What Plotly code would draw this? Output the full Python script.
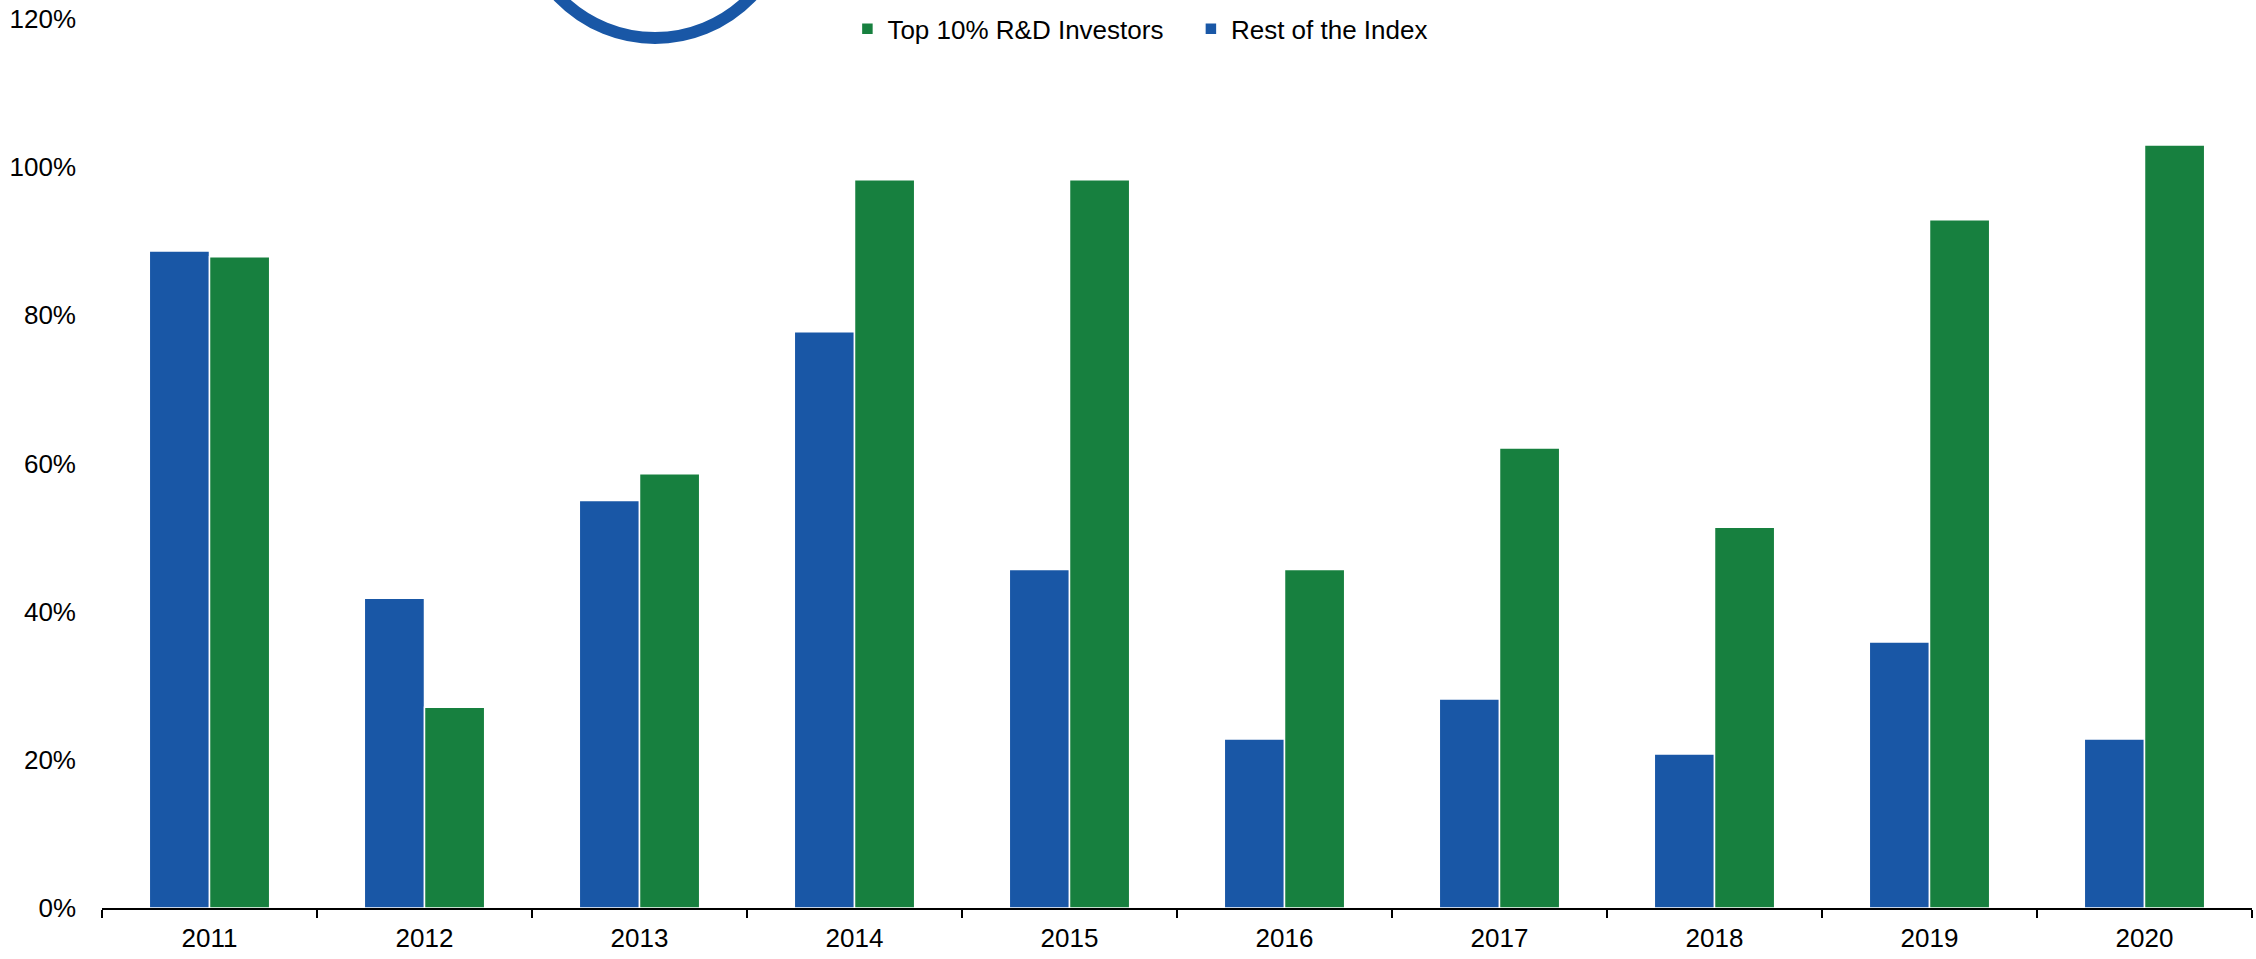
import plotly.graph_objects as go

years = ["2011", "2012", "2013", "2014", "2015", "2016", "2017", "2018", "2019", "2020"]
rest_of_index = [0.887, 0.418, 0.550, 0.778, 0.457, 0.228, 0.282, 0.208, 0.359, 0.228]
top_10_rd = [0.879, 0.271, 0.586, 0.983, 0.983, 0.457, 0.621, 0.514, 0.929, 1.030]

blue = "#1957A6"
green = "#17803F"
font_family = "Arial, Liberation Sans, sans-serif"

fig = go.Figure()

fig.add_trace(go.Bar(
    x=years,
    y=rest_of_index,
    name="Rest of the Index",
    marker=dict(color=blue, line=dict(color="white", width=1.5)),
))

fig.add_trace(go.Bar(
    x=years,
    y=top_10_rd,
    name="Top 10% R&D Investors",
    marker=dict(color=green, line=dict(color="white", width=1.5)),
))

# ring annotation cut off at the top
fig.add_shape(
    type="circle",
    xref="paper", yref="paper",
    x0=0.2572 - 0.0630, x1=0.2572 + 0.0630,
    y0=1.135 - 0.1564, y1=1.135 + 0.1564,
    line=dict(color=blue, width=12),
)

fig.update_layout(
    width=2256,
    height=959,
    barmode="group",
    bargap=0.44,
    bargroupgap=0,
    plot_bgcolor="white",
    paper_bgcolor="white",
    font=dict(family=font_family, size=26, color="black"),
    margin=dict(l=102, r=4, t=19, b=51, autoexpand=False),
    showlegend=True,
    legend=dict(
        orientation="h",
        traceorder="reversed",
        x=0.3467,
        xanchor="left",
        y=0.989,
        yanchor="middle",
        font=dict(size=26),
        itemwidth=30,
        entrywidth=298.5,
        bgcolor="rgba(0,0,0,0)",
    ),
    xaxis=dict(
        automargin=False,
        showline=True,
        linecolor="black",
        linewidth=2,
        ticks="outside",
        tickson="boundaries",
        ticklen=8,
        tickwidth=2,
        tickcolor="black",
        showgrid=False,
        ticklabelstandoff=6,
        ticklabeloverflow="allow",
    ),
    yaxis=dict(
        automargin=False,
        range=[0, 1.2],
        tickvals=[0, 0.2, 0.4, 0.6, 0.8, 1.0, 1.2],
        tickformat=".0%",
        showgrid=False,
        showline=False,
        zeroline=False,
        ticklabelstandoff=25,
        ticklabeloverflow="allow",
    ),
)

# drop the page's default 8px body margin so the figure fills the window
fig.write_html("out.html",
               config={"displayModeBar": False},
               post_script="document.body.style.margin = '0';")
